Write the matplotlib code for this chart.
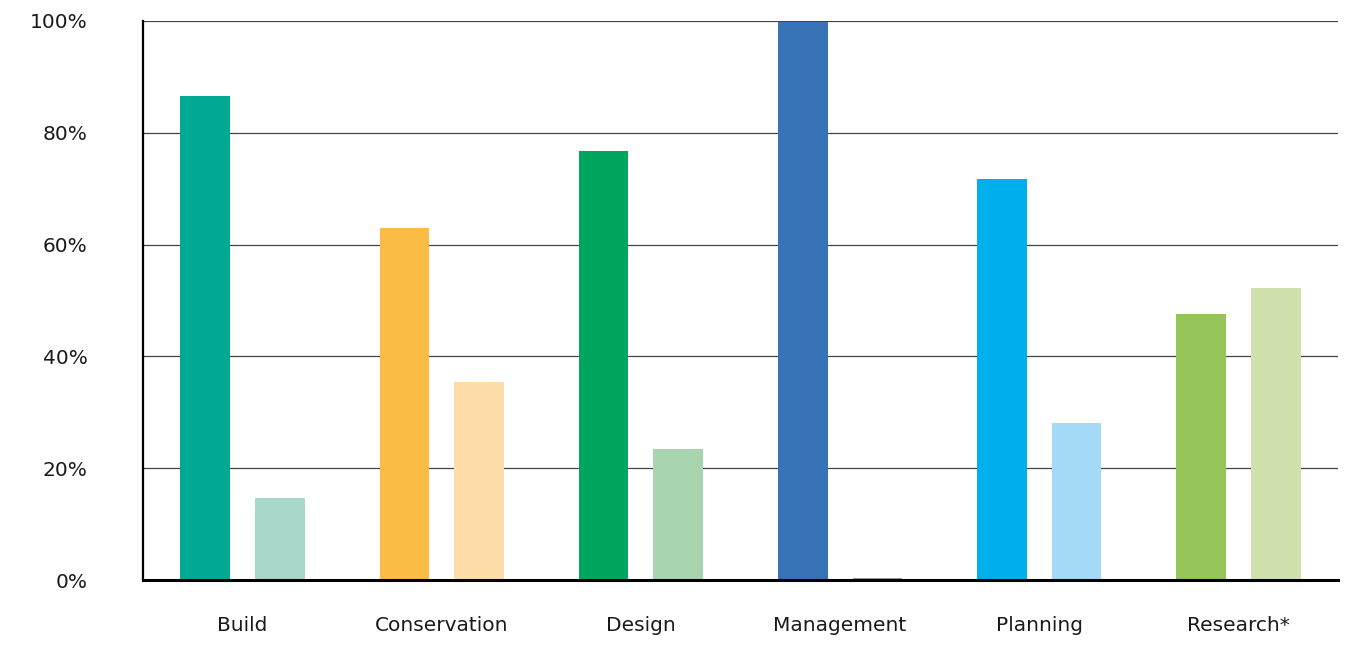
import matplotlib
matplotlib.use("Agg")
import matplotlib.pyplot as plt
import numpy as np

categories = ["Build", "Conservation", "Design", "Management", "Planning", "Research*"]
series_a = [86.6, 63.0, 76.8, 99.8, 71.8, 47.5]
series_b = [14.7, 35.5, 23.5, 0.3, 28.0, 52.3]
colors_a = ["#00A994", "#FBBC45", "#00A65E", "#3873B8", "#00B0EC", "#95C459"]
colors_b = ["#A8D8CC", "#FDDDA8", "#A8D4B0", "#9A9A9A", "#A4DAF7", "#CFE2AE"]
yticks = [0, 20, 40, 60, 80, 100]
ytick_labels = ["0%", "20%", "40%", "60%", "80%", "100%"]

fig = plt.figure(figsize=(13.52, 6.46), dpi=100)
ax = fig.add_axes([143/1352, 1-580/646, (1338-143)/1352, (580-21)/646])

x = np.arange(len(categories))
w = 0.25
off = 0.1875
ax.bar(x - off, series_a, width=w, color=colors_a, zorder=3)
ax.bar(x + off, series_b, width=w, color=colors_b, zorder=3)

ax.set_xlim(-0.5, len(categories) - 0.5)
ax.set_ylim(0, 100)
ax.set_yticks(yticks)
ax.set_yticklabels(ytick_labels)
ax.set_xticks(x)
ax.set_xticklabels(categories)
ax.tick_params(axis="both", length=0, labelsize=14.5, colors="#1a1a1a")
ax.tick_params(axis="y", pad=40)
ax.tick_params(axis="x", pad=26)

ax.yaxis.grid(True, color="#444444", linewidth=0.9, zorder=0)
ax.set_axisbelow(True)
for s in ["top", "right"]:
    ax.spines[s].set_visible(False)
ax.spines["left"].set_linewidth(1.6)
ax.spines["left"].set_color("black")
ax.spines["bottom"].set_linewidth(2.2)
ax.spines["bottom"].set_color("black")
ax.spines["bottom"].set_zorder(4)

fig.savefig("out.png", dpi=100)
